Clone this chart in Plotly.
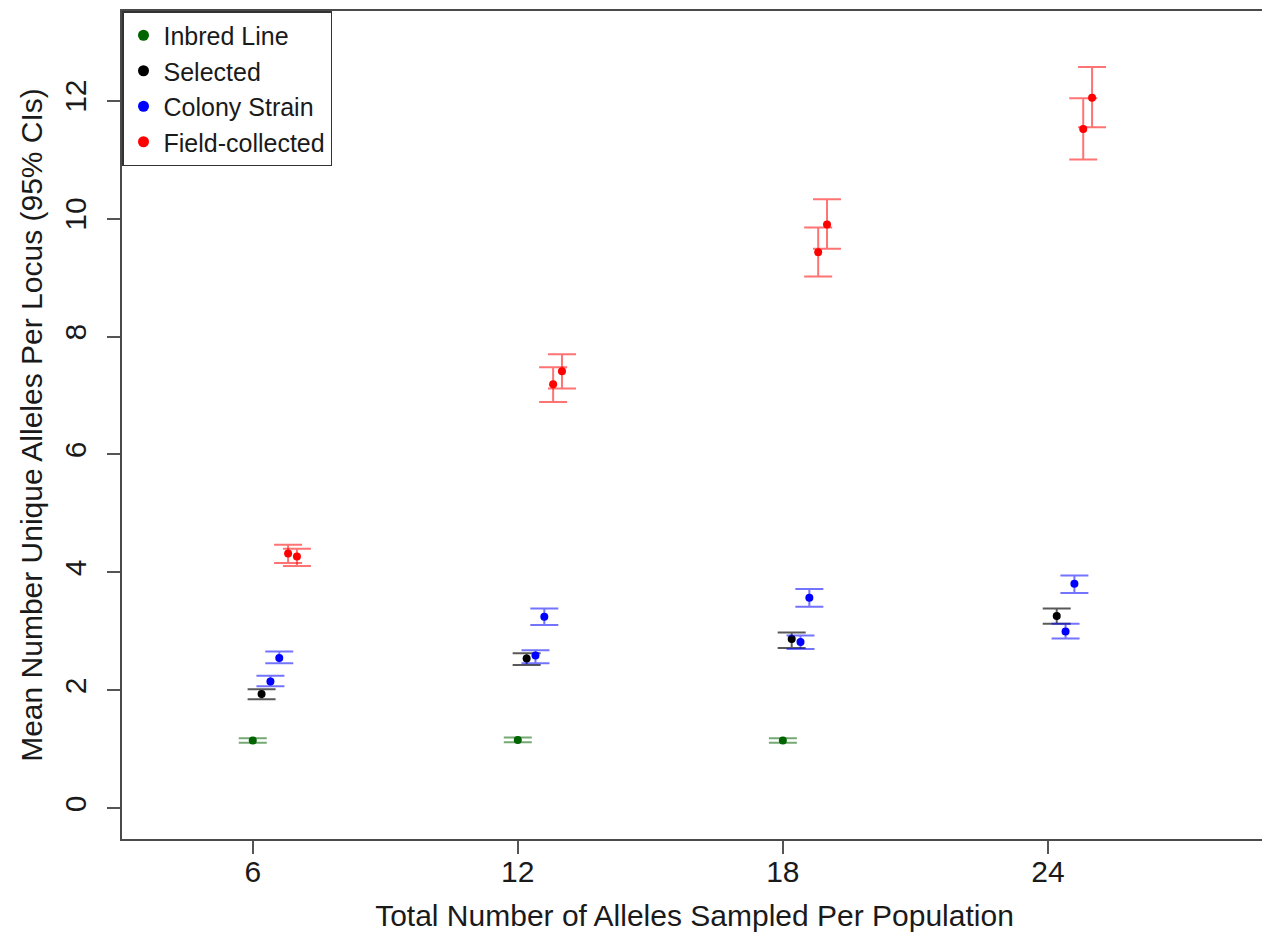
import plotly.graph_objects as go

# ---------------- data ----------------
sample_sizes = [6, 12, 18, 24]

inbred_x = [6, 12, 18]
inbred_mean = [1.15, 1.16, 1.15]
inbred_lo = [1.11, 1.12, 1.11]
inbred_hi = [1.19, 1.20, 1.19]

selected_x = [6, 12, 18, 24]
selected_mean = [1.94, 2.54, 2.87, 3.26]
selected_lo = [1.85, 2.43, 2.72, 3.13]
selected_hi = [2.02, 2.63, 2.98, 3.39]

colonyA_x = [6, 12, 18, 24]
colonyA_mean = [2.15, 2.59, 2.82, 3.00]
colonyA_lo = [2.07, 2.46, 2.70, 2.88]
colonyA_hi = [2.25, 2.68, 2.93, 3.13]

colonyB_x = [6, 12, 18, 24]
colonyB_mean = [2.55, 3.25, 3.57, 3.81]
colonyB_lo = [2.46, 3.11, 3.42, 3.65]
colonyB_hi = [2.66, 3.39, 3.72, 3.95]

fieldA_x = [6, 12, 18, 24]
fieldA_mean = [4.32, 7.19, 9.43, 11.52]
fieldA_lo = [4.16, 6.89, 9.02, 11.00]
fieldA_hi = [4.47, 7.48, 9.85, 12.04]

fieldB_x = [6, 12, 18, 24]
fieldB_mean = [4.27, 7.41, 9.90, 12.05]
fieldB_lo = [4.11, 7.12, 9.49, 11.55]
fieldB_hi = [4.40, 7.70, 10.33, 12.57]

legend_names = ["Inbred Line", "Selected", "Colony Strain", "Field-collected"]
y_ticks = [0, 2, 4, 6, 8, 10, 12]

# ---------------- styles ----------------
FONT = "Liberation Sans, Arial, Helvetica, sans-serif"
colors = {
    "Inbred Line": ("#006400", "rgba(0,100,0,0.55)"),
    "Selected": ("#000000", "rgba(0,0,0,0.65)"),
    "Colony Strain": ("#0000ff", "rgba(0,0,255,0.55)"),
    "Field-collected": ("#ff0000", "rgba(255,0,0,0.55)"),
}

series = [
    ("Inbred Line", inbred_x, inbred_mean, inbred_lo, inbred_hi, 0.0),
    ("Selected", selected_x, selected_mean, selected_lo, selected_hi, 0.2),
    ("Colony Strain", colonyA_x, colonyA_mean, colonyA_lo, colonyA_hi, 0.4),
    ("Colony Strain", colonyB_x, colonyB_mean, colonyB_lo, colonyB_hi, 0.6),
    ("Field-collected", fieldA_x, fieldA_mean, fieldA_lo, fieldA_hi, 0.8),
    ("Field-collected", fieldB_x, fieldB_mean, fieldB_lo, fieldB_hi, 1.0),
]

fig = go.Figure()

for name, xs, m, lo, hi, off in series:
    pc, ec = colors[name]
    fig.add_trace(go.Scatter(
        x=[v + off for v in xs], y=m, mode="markers",
        marker=dict(color=pc, size=8, line=dict(width=0)),
        error_y=dict(type="data", symmetric=False,
                     array=[h - v for h, v in zip(hi, m)],
                     arrayminus=[v - l for l, v in zip(lo, m)],
                     color=ec, thickness=2, width=14),
        showlegend=False, name=name,
    ))

# legend-only entries
for name in legend_names:
    pc, _ = colors[name]
    fig.add_trace(go.Scatter(
        x=[None], y=[None], mode="markers", name=name,
        marker=dict(color=pc, size=11),
        showlegend=True,
    ))

axis_common = dict(
    showgrid=False, zeroline=False,
    showline=True, mirror=True, linecolor="#4a4a4a", linewidth=1.5,
    ticks="outside", ticklen=13, tickcolor="#555555", tickwidth=1.5,
    tickfont=dict(family=FONT, size=30, color="#1a1a1a"),
)

fig.update_layout(
    width=1262, height=927,
    margin=dict(l=114, r=2, t=1, b=96),
    paper_bgcolor="white", plot_bgcolor="white",
    font=dict(family=FONT, color="#1a1a1a"),
    xaxis=dict(
        range=[3.04, 28.96], tickvals=sample_sizes,
        ticktext=[str(v) for v in sample_sizes],
        ticklabelstandoff=-8,
        title=dict(text="Total Number of Alleles Sampled Per Population",
                   font=dict(family=FONT, size=30, color="#1a1a1a"), standoff=18),
        **axis_common,
    ),
    yaxis=dict(
        range=[-0.52, 13.52], tickvals=y_ticks,
        ticktext=[str(v) for v in y_ticks], tickangle=-90,
        ticklabelstandoff=9,
        title=dict(text="Mean Number Unique Alleles Per Locus (95% CIs)",
                   font=dict(family=FONT, size=30, color="#1a1a1a"), standoff=8),
        **axis_common,
    ),
    legend=dict(
        x=0, y=1, xanchor="left", yanchor="top",
        bgcolor="white", bordercolor="#333333", borderwidth=1.5,
        font=dict(family=FONT, size=25, color="#1a1a1a"),
        itemsizing="trace", tracegroupgap=0,
    ),
)

fig.write_html("out.html")
